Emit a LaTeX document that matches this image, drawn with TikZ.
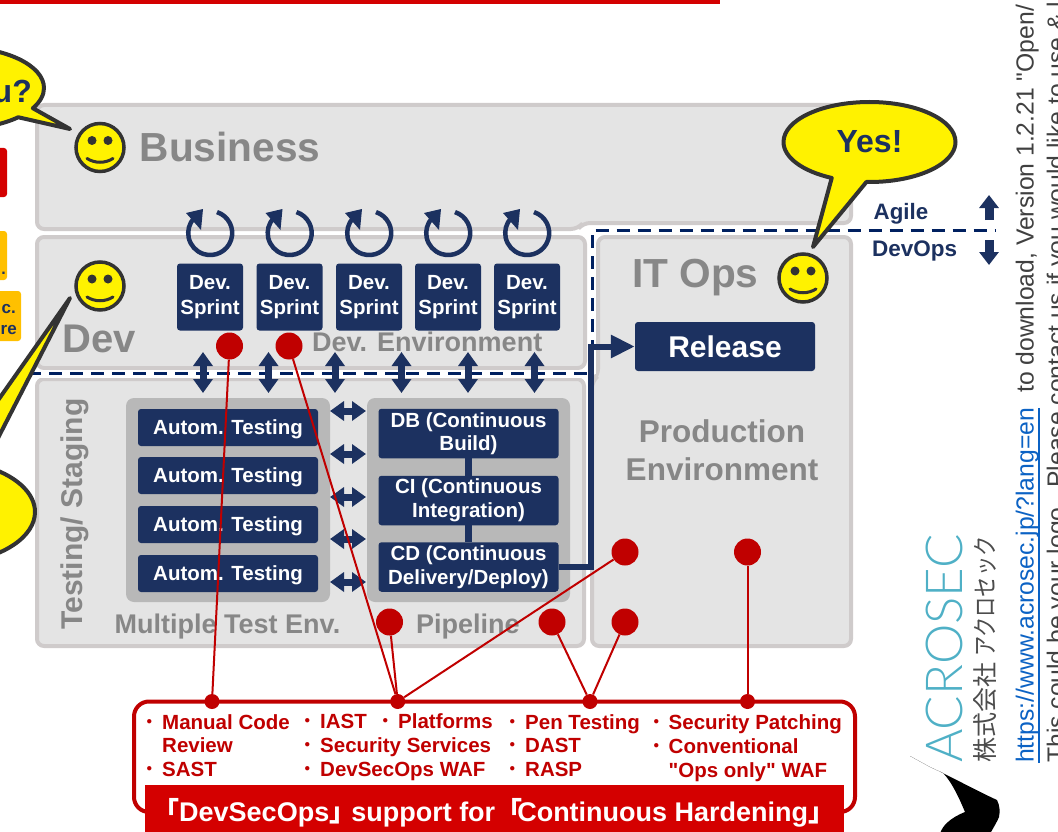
\documentclass[tikz,border=0pt]{standalone}
\usepackage{fontspec}
\usepackage{tikz}
\usetikzlibrary{arrows.meta,shapes.callouts}
\setmainfont{Liberation Sans}
\newfontfamily\plainfont{Liberation Sans}
\newfontfamily\cjk{Noto Sans CJK JP}
\newfontfamily\cjkkana[FakeStretch=0.81]{Noto Sans CJK JP}
\newfontfamily\logofont{Lato Light}

\definecolor{navy}{HTML}{1C3160}
\definecolor{dashnavy}{HTML}{002060}
\definecolor{panelfill}{HTML}{E4E4E4}
\definecolor{paneledge}{HTML}{CFCBCB}
\definecolor{groupfill}{HTML}{B8B8B8}
\definecolor{labelgray}{HTML}{878787}
\definecolor{hardred}{HTML}{C00000}
\definecolor{barred}{HTML}{D40000}
\definecolor{orangebox}{HTML}{FFC000}
\definecolor{linkblue}{HTML}{0B62C4}
\definecolor{logoblue}{HTML}{4FB0C6}

\newcommand{\fs}[1]{\fontsize{#1}{\the\dimexpr#1pt*115/100\relax}\selectfont}
\newcommand{\blt}{\llap{{\cjk\mdseries ・}\hspace{2pt}}}

\tikzset{
  panel/.style    = {draw=paneledge, fill=panelfill, line width=4pt, rounded corners=7pt},
  group/.style    = {fill=groupfill, rounded corners=8pt},
  bluebox/.style  = {fill=navy, text=white, rounded corners=3pt, inner sep=0pt, align=center, font=\bfseries\fs{20.5}},
  autobox/.style  = {bluebox, minimum width=180pt, minimum height=37pt, text height=17.5pt, text depth=3pt},
  graylabel/.style= {text=labelgray, font=\bfseries, inner sep=0pt},
  balloon/.style  = {ellipse callout, draw=black!80, fill=yellow, line width=4pt, line join=round, inner sep=0pt},
  smile/.style    = {circle, draw=black!80, fill=yellow, line width=3.5pt, minimum size=48pt, inner sep=0pt},
  reddot/.style   = {circle, fill=hardred, minimum size=27pt, inner sep=0pt},
  smalldot/.style = {circle, fill=hardred, minimum size=15pt, inner sep=0pt},
  redline/.style  = {draw=hardred, line width=2pt},
  vertarrow/.style= {navy, line width=7pt, {Triangle[length=14pt,width=19pt]}-{Triangle[length=14pt,width=19pt]}},
  onearrow/.style = {navy, line width=9pt, -{Triangle[length=13pt,width=19pt]}},
  sprintloop/.style={navy, line width=4.5pt},
  dashline/.style = {dashnavy, line width=3pt, dash pattern=on 13pt off 8pt},
  whiteline/.style= {white, line width=8pt},
  suptext/.style  = {text=hardred, font=\bfseries\fs{20.5}, align=left, inner sep=0pt, anchor=north west}
}

% face: eyes and mouth go on top of a smile node
\newcommand{\faceat}[1]{
  \fill[black!80] (#1) ++(-8,-7) circle (4.5);
  \fill[black!80] (#1) ++(8,-7) circle (4.5);
  \draw[black!80, line width=3pt, line cap=round] (#1) ++(-13,11) .. controls +(8,5) and +(-8,5) .. +(26,0);
}
% loop arrow over one sprint
\newcommand{\loopat}[1]{
  \draw[sprintloop] (#1) ++(7,-20.9) arc[start angle=-72, end angle=222, radius=22];
  \fill[navy] (#1) ++(-7,-24) -- ++(-17,4) -- ++(15,17) -- cycle;
}

\begin{document}
\begin{tikzpicture}[x=1pt, y=-1pt]

  \useasboundingbox (0,0) rectangle (1058,832);
  \clip (0,0) rectangle (1058,832);

  % top bar and the boxes cut by the left edge
  \fill [barred]                (0,0) rectangle (720,4);
  \fill [barred, rounded corners=3pt]     (-20,148) rectangle (7,197);
  \fill [orangebox, rounded corners=3pt]  (-20,231) rectangle (7,280);
  \fill [orangebox, rounded corners=3pt]  (-40,291) rectangle (21,341);
  \node [text=navy, font=\bfseries\fs{16}, anchor=base east, inner sep=0pt] (orangedot) at (6,274) {.};
  \node [text=navy, font=\bfseries\fs{17}, anchor=base east, inner sep=0pt] (orangetop) at (16,313) {c.};
  \node [text=navy, font=\bfseries\fs{17}, anchor=base east, inner sep=0pt] (orangelow) at (17,334) {re};

  % panels
  \draw [panel]  (37,105) -- (851,105) -- (851,223) -- (583,223) -- (578,229) -- (37,229) -- cycle;
  \draw [panel]  (37,237) -- (585,237) -- (585,368) -- (37,368) -- cycle;
  \draw [panel]  (37,379) -- (584,379) -- (584,646) -- (37,646) -- cycle;
  \draw [panel]  (598,237) -- (851,237) -- (851,646) -- (592,646) -- (592,381) -- (598,376) -- cycle;

  % dashed borders
  \draw [whiteline]  (28,373.5) -- (592,373.5);
  \draw [whiteline]  (592,373.5) -- (592,230) -- (995,230);
  \draw [dashline]   (28,373.5) -- (592,373.5);
  \draw [dashline]   (592,373.5) -- (592,230) -- (995,230);

  \node [graylabel, anchor=base west, font=\bfseries\fs{40.6}] (business) at (139.5,162) {Business};
  \node [graylabel, anchor=base west, font=\bfseries\fs{40}] (dev)      at (62,352) {Dev};
  \node [graylabel, anchor=base west, font=\bfseries\fs{40.6}] (itops)  at (632,287) {IT Ops};
  \node [graylabel, anchor=base west, font=\bfseries\fs{27}] (devenv)   at (312,351) {Dev. Environment};
  \node [graylabel, anchor=base, rotate=90, font=\bfseries\fs{30}] (staging) at (82,514) {Testing/ Staging};
  \node [graylabel, anchor=base west, font=\bfseries\fs{27}] (multi)    at (114.5,633) {Multiple Test Env.};
  \node [graylabel, anchor=base west, font=\bfseries\fs{27}] (pipeline) at (416,633) {Pipeline};
  \node [graylabel, align=center, font=\bfseries\fs{31.5}] (prodenv)    at (722,450) {Production\\[1.5pt]Environment};

  % sprints
  \node [bluebox, minimum width=66pt, minimum height=67pt] (sprinta) at (210,297)   {Dev.\\[2pt]Sprint};
  \node [bluebox, minimum width=66pt, minimum height=67pt] (sprintb) at (289.5,297) {Dev.\\[2pt]Sprint};
  \node [bluebox, minimum width=66pt, minimum height=67pt] (sprintc) at (369,297)   {Dev.\\[2pt]Sprint};
  \node [bluebox, minimum width=66pt, minimum height=67pt] (sprintd) at (448,297)   {Dev.\\[2pt]Sprint};
  \node [bluebox, minimum width=66pt, minimum height=67pt] (sprinte) at (527,297)   {Dev.\\[2pt]Sprint};

  \loopat{210,233}
  \loopat{289.5,233}
  \loopat{369,233}
  \loopat{448,233}
  \loopat{527,233}

  % smileys and balloons
  \coordinate (tipleft)  at (70,129);
  \coordinate (tipdev)   at (70,298);
  \coordinate (tipyes)   at (813,247);
  \node [balloon, minimum width=172pt, minimum height=82pt, callout absolute pointer={(tipleft)}, callout pointer arc=16] (askballoon) at (-42,88) {};
  \node [balloon, minimum width=190pt, minimum height=104pt, callout absolute pointer={(tipdev)}, callout pointer arc=18]  (devballoon) at (-60,512) {};
  \node [balloon, minimum width=172pt, minimum height=80pt, callout absolute pointer={(tipyes)}, callout pointer arc=24, text=navy, font=\bfseries\fs{32}] (yesballoon) at (869.5,142) {Yes!\hspace{5pt}};
  \node [text=navy, font=\bfseries\fs{32}, anchor=base east, inner sep=0pt] (asktext) at (32,103) {u?};

  \node [smile] (facebiz) at (100,147.5) {};
  \node [smile] (facedev) at (100,286) {};
  \node [smile] (faceops) at (803,278) {};
  \faceat{facebiz}
  \faceat{facedev}
  \faceat{faceops}

  % test environments and pipeline
  \fill [group]  (126,398) rectangle (330,602);
  \fill [group]  (367,398) rectangle (570,602);

  \node [autobox] (autoa) at (228,427.5) {Autom. Testing};
  \node [autobox] (autob) at (228,475.5) {Autom. Testing};
  \node [autobox] (autoc) at (228,524.5) {Autom. Testing};
  \node [autobox] (autod) at (228,573.5) {Autom. Testing};

  \node [bluebox, minimum width=180pt, minimum height=49.5pt] (dbbuild)  at (468.5,433.5) {DB (Continuous\\Build)};
  \node [bluebox, minimum width=180pt, minimum height=49.5pt] (ciinteg)  at (468.5,500.5) {CI (Continuous\\Integration)};
  \node [bluebox, minimum width=180pt, minimum height=49.5pt] (cdeploy)  at (468.5,567)   {CD (Continuous\\Delivery/Deploy)};
  \draw [navy, line width=6.5pt]  (dbbuild) -- (ciinteg);
  \draw [navy, line width=6.5pt]  (ciinteg) -- (cdeploy);

  \node [bluebox, minimum width=180pt, minimum height=49pt, font=\bfseries\fs{30}] (release) at (725,346.5) {Release};
  \coordinate (relturn) at (591,346.5);
  \draw [navy, line width=6pt, -{Triangle[length=24pt,width=22pt]}]  (cdeploy.east) -| (relturn) -- (release.west);

  % arrows between dev and testing
  \coordinate (upa) at (203,352);   \coordinate (lowa) at (203,393);
  \coordinate (upb) at (268.5,352); \coordinate (lowb) at (268.5,393);
  \coordinate (upc) at (335,352);   \coordinate (lowc) at (335,393);
  \coordinate (upd) at (401.5,352); \coordinate (lowd) at (401.5,393);
  \coordinate (upe) at (468,352);   \coordinate (lowe) at (468,393);
  \coordinate (upf) at (534.5,352); \coordinate (lowf) at (534.5,393);
  \draw [vertarrow]  (upa) -- (lowa);
  \draw [vertarrow]  (upb) -- (lowb);
  \draw [vertarrow]  (upc) -- (lowc);
  \draw [vertarrow]  (upd) -- (lowd);
  \draw [vertarrow]  (upe) -- (lowe);
  \draw [vertarrow]  (upf) -- (lowf);

  % arrows between tests and pipeline
  \coordinate (testa) at (330,411); \coordinate (pipea) at (366,411);
  \coordinate (testb) at (330,454); \coordinate (pipeb) at (366,454);
  \coordinate (testc) at (330,497); \coordinate (pipec) at (366,497);
  \coordinate (testd) at (330,539); \coordinate (piped) at (366,539);
  \coordinate (teste) at (330,582); \coordinate (pipee) at (366,582);
  \draw [vertarrow]  (testa) -- (pipea);
  \draw [vertarrow]  (testb) -- (pipeb);
  \draw [vertarrow]  (testc) -- (pipec);
  \draw [vertarrow]  (testd) -- (piped);
  \draw [vertarrow]  (teste) -- (pipee);

  % agile / devops
  \node [text=navy, font=\bfseries\fs{22.3}, anchor=base west, inner sep=0pt] (agile)  at (873.5,219) {Agile};
  \node [text=navy, font=\bfseries\fs{22.5}, anchor=base west, inner sep=0pt] (devops) at (872,256.5) {DevOps};
  \coordinate (agilelow) at (989,220); \coordinate (agiletop) at (989,195);
  \coordinate (opstop)   at (989,240); \coordinate (opslow)   at (989,265);
  \draw [onearrow]  (agilelow) -- (agiletop);
  \draw [onearrow]  (opstop) -- (opslow);

  % hardening box
  \draw [draw=hardred, line width=4pt, rounded corners=15pt, fill=white]  (134,701.5) rectangle (855,812);
  \node [suptext] (suptexta) at (162,714) {\blt Manual Code\\[.3pt]Review\\[.3pt]\blt SAST};
  \node [suptext] (suptextb) at (320,713.5) {\blt IAST\\[.5pt]\blt Security Services\\[.5pt]\blt DevSecOps WAF};
  \node [suptext] (suptextc) at (398,713.5) {\blt Platforms};
  \node [suptext] (suptextd) at (525,714) {\blt Pen Testing\\[.3pt]\blt DAST\\[.3pt]\blt RASP};
  \node [suptext] (suptexte) at (668.5,714) {\blt Security Patching\\[.5pt]\blt Conventional\\[.5pt]{\plainfont "Ops only" WAF}};
  \fill [barred]  (145,785) rectangle (844,832);
  \node [text=white, font=\bfseries\fs{27}, anchor=base west, inner sep=0pt] (bannertext) at (152,821.5)
        {{\cjk 「}DevSecOps{\cjk 」}\hspace{-5pt}support for{\cjk 「}\hspace{-5pt}Continuous Hardening{\cjk 」}};

  % red dots and their lines
  \node [reddot] (dota) at (229.5,346) {};
  \node [reddot] (dotb) at (289,346) {};
  \node [reddot] (dotc) at (389.5,622) {};
  \node [reddot] (dotd) at (552,622) {};
  \node [reddot] (dote) at (625,622) {};
  \node [reddot] (dotf) at (625,552) {};
  \node [reddot] (dotg) at (747.5,552) {};
  \node [smalldot] (joina) at (212,701.5) {};
  \node [smalldot] (joinb) at (397.7,701.5) {};
  \node [smalldot] (joinc) at (590,701.5) {};
  \node [smalldot] (joind) at (747.5,701.5) {};
  \draw [redline]  (dota) -- (joina);
  \draw [redline]  (dotb) -- (joinb);
  \draw [redline]  (dotc) -- (joinb);
  \draw [redline]  (dotf) -- (joinb);
  \draw [redline]  (dotd) -- (joinc);
  \draw [redline]  (dote) -- (joinc);
  \draw [redline]  (dotg) -- (joind);

  % logo and side text
  \fill [black]  (910,756) -- (930,767) .. controls (950,776) and (975,790) .. (997,800)
                 .. controls (1000,806) and (1000,812) .. (999,817) .. controls (996,824) and (993,828) .. (990,834)
                 -- (940,834) .. controls (942,826) and (950,818) .. (965,812)
                 .. controls (960,800) and (952,782) .. (943,773) -- (930,767) -- cycle;
  \node [text=logoblue, font=\logofont\fs{51}, rotate=90, anchor=base west, inner sep=0pt] (acrosec) at (962,763) {ACROSEC};
  \node [text=black!70, font=\fs{25}, rotate=90, anchor=base west, inner sep=0pt] (kabushiki) at (994,763) {{\cjk 株式会社}\hspace{6pt}{\cjkkana アクロセック}};
  \node [text=linkblue, font=\fs{24.7}, rotate=90, anchor=base west, inner sep=0pt] (linktext) at (1033.5,763) {https://www.acrosec.jp/?lang=en};
  \draw [linkblue, line width=2.5pt]  (linktext.south west) -- (linktext.south east);
  \node [text=black!75, font=\plainfont\fs{24.7}, rotate=90, anchor=base west, inner sep=0pt] (dltext) at (1033.5,393) {to download, Version 1.2.21 "Open/};
  \node [text=black!75, font=\fs{24.7}, rotate=90, anchor=base west, inner sep=0pt] (logotext) at (1064.7,763) {This could be your logo.\hspace{13pt}Please contact us if you would like to use \& l};

\end{tikzpicture}
\end{document}
